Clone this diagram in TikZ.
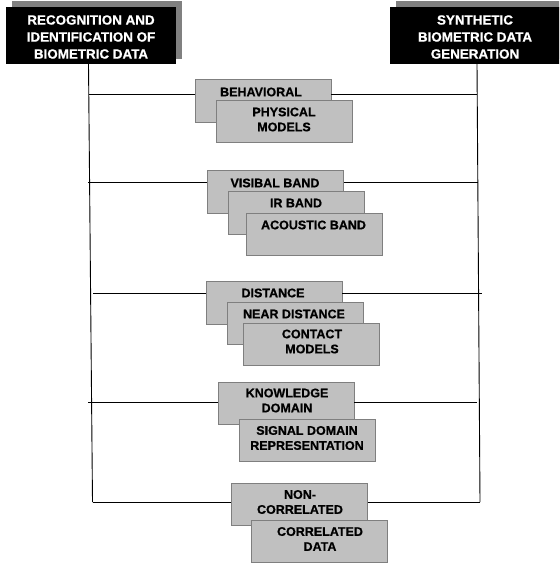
\documentclass[tikz,border=0pt]{standalone}
\usepackage{fontspec}
\setmainfont{Liberation Sans}[BoldFeatures={FakeBold=0.8}]
\begin{document}
\begin{tikzpicture}[x=1pt,y=-1pt,
  shadowbox/.style={fill=shadowgray,draw=none},
  blackbox/.style={fill=black,draw=none},
  blacktext/.style={text=white,font=\fontsize{13.4}{17}\selectfont\bfseries,align=center,inner sep=0pt},
  gbox/.style={fill=boxgray,draw=edgegray,line width=0.9pt},
  gtext/.style={text=black,font=\fontsize{12.5}{15}\selectfont\bfseries,align=center,inner sep=0pt},
  conn/.style={draw=black,line width=0.9pt}]
\definecolor{shadowgray}{HTML}{808080}
\definecolor{boxgray}{HTML}{C0C0C0}
\definecolor{edgegray}{HTML}{7F7F7F}
\useasboundingbox (0,0) rectangle (559,564);
\begin{scope}
\clip (0,0) rectangle (559,564);
% header boxes
\fill[shadowbox] (12,1) rectangle (182,59);
\node[blackbox,minimum width=170pt,minimum height=57pt,inner sep=0pt] (recog) at (91,35.5) {};
\node[blacktext] (recogtxt) at (91,37) {RECOGNITION AND\\IDENTIFICATION OF\\BIOMETRIC DATA};
\fill[shadowbox] (396,1) rectangle (566,59);
\node[blackbox,minimum width=170pt,minimum height=57pt,inner sep=0pt] (synth) at (475,35.5) {};
\node[blacktext] (synthtxt) at (475,37) {SYNTHETIC\\BIOMETRIC DATA\\GENERATION};
\end{scope}
% vertical lines
\coordinate (Ltop) at (88.5,64);
\coordinate (Lbot) at (92.5,502);
\coordinate (Rtop) at (477,64);
\coordinate (Rbot) at (480,502);
\draw[conn] (Ltop) -- (Lbot);
\draw[conn] (Rtop) -- (Rbot);
% row anchor coordinates
\coordinate (L1) at (89,94);   \coordinate (R1) at (477.4,94);
\coordinate (L2) at (88,182);  \coordinate (R2) at (478,182);
\coordinate (L3) at (93,293.5);\coordinate (R3) at (481.5,293.5);
\coordinate (L4) at (88,402.5);\coordinate (R4) at (476.5,402.5);
% boxes
\tikzset{bx/.style={gbox,minimum width=136pt,minimum height=42.5pt,inner sep=0pt}}
% row 1
\node[bx] (beh) at (263,101) {};
\draw[conn] (L1) -- (L1 -| beh.west);
\draw[conn] (beh.east |- R1) -- (R1);
\node[gtext] at (261,92) {BEHAVIORAL};
\node[bx] (phy) at (284,121.5) {};
\node[gtext] at (284,119.5) {PHYSICAL\\MODELS};
% row 2
\node[bx] (vis) at (275.5,192) {};
\draw[conn] (L2) -- (L2 -| vis.west);
\draw[conn] (vis.east |- R2) -- (R2);
\node[gtext] at (275,183) {VISIBAL BAND};
\node[bx] (ir) at (296,213) {};
\node[gtext] at (296,203) {IR BAND};
\node[bx] (aco) at (314,234.5) {};
\node[gtext] at (313.5,225) {ACOUSTIC BAND};
% row 3
\node[bx] (dis) at (274,303) {};
\draw[conn] (L3) -- (L3 -| dis.west);
\draw[conn] (dis.east |- R3) -- (R3);
\node[gtext] at (273,293) {DISTANCE};
\node[bx] (near) at (295,323.5) {};
\node[gtext] at (294,314) {NEAR DISTANCE};
\node[bx] (con) at (311.5,344.5) {};
\node[gtext] at (312,341.5) {CONTACT\\MODELS};
% row 4
\node[bx] (kno) at (286,403.5) {};
\draw[conn] (L4) -- (L4 -| kno.west);
\draw[conn] (kno.east |- R4) -- (R4);
\node[gtext] at (287,400.5) {KNOWLEDGE\\DOMAIN};
\node[bx] (sig) at (307,440.5) {};
\node[gtext] at (307,438) {SIGNAL DOMAIN\\REPRESENTATION};
% row 5
\node[bx] (non) at (299.5,504.5) {};
\draw[conn] (Lbot) -- (Lbot -| non.west);
\draw[conn] (non.east |- Rbot) -- (Rbot);
\node[gtext] at (300,502) {NON-\\CORRELATED};
\node[bx] (cor) at (319.5,541.5) {};
\node[gtext] at (320,539) {CORRELATED\\DATA};
\end{tikzpicture}
\end{document}
